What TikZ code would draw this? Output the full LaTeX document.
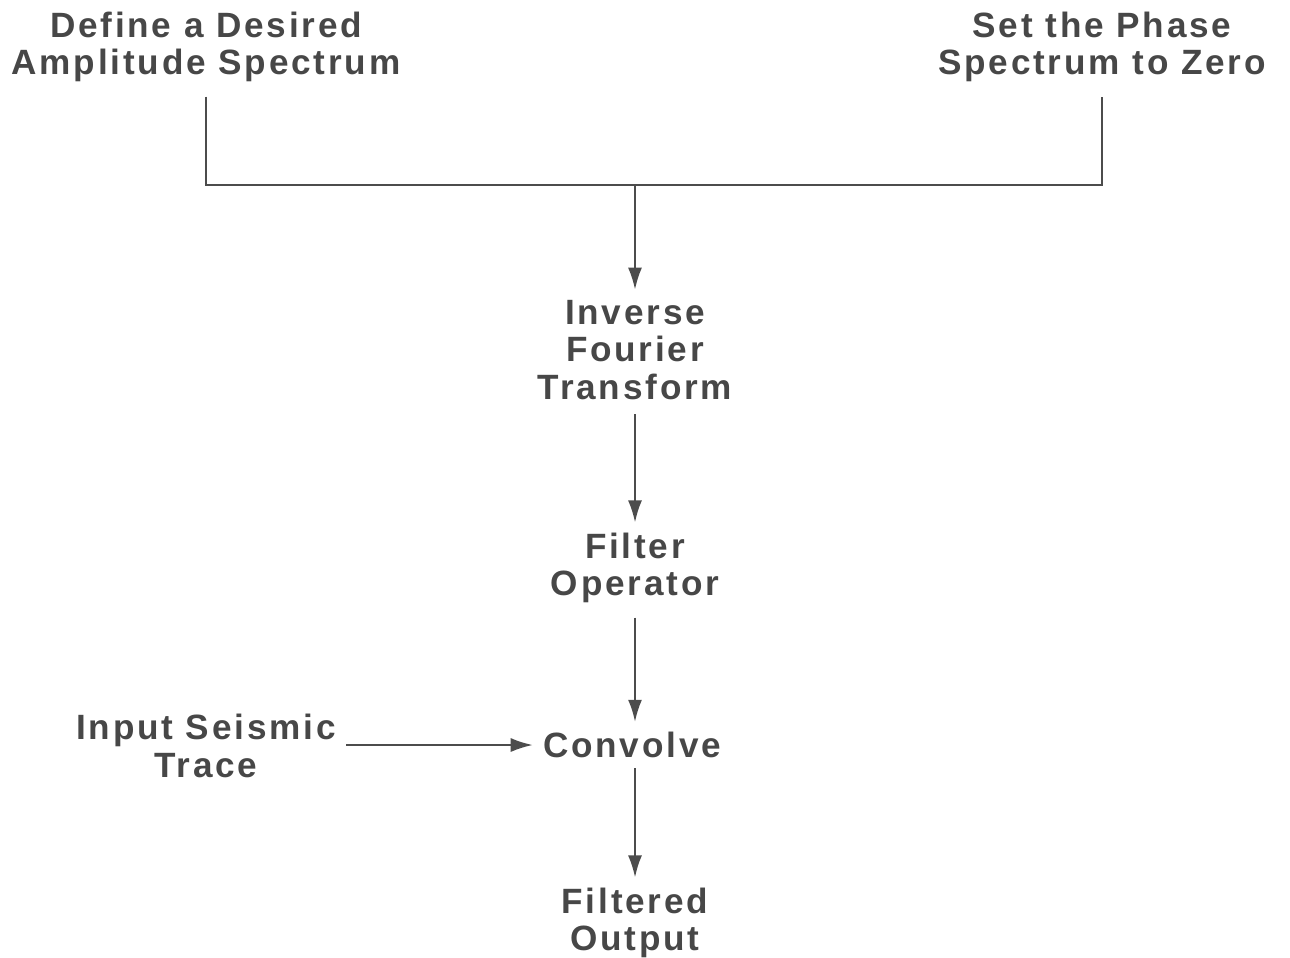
\documentclass[tikz,border=0pt]{standalone}
\usepackage{fontspec}
\setmainfont[LetterSpace=8]{Liberation Sans}
\usetikzlibrary{arrows.meta,positioning,calc}

\begin{document}
\begin{tikzpicture}[x=0.02cm, y=-0.02cm,
		every node/.style={align=center, text=black!72,
				font=\bfseries\fontsize{20pt}{21.5pt}\selectfont},
		stepText/.style={inner sep=0.2cm},
		flowArrow/.style={draw=black!70, line width=1.1pt,
				-{Latex[length=4.4mm, width=2.8mm]}},
		flowLine/.style={draw=black!70, line width=1.1pt}
	]
	\useasboundingbox (0,0) rectangle (1290,957);

	% top inputs
	\node[stepText] (Amp) at (206,47) {Define a Desired\\Amplitude Spectrum};
	\node[stepText] (Phase) at (1102,47) {Set the Phase\\Spectrum to Zero};
	\coordinate (Join) at (635,185);

	% main column
	\node[stepText] (IFT) at (635,350) {Inverse\\Fourier\\Transform};
	\node[stepText] (Op) at (635,568) {Filter\\Operator};
	\node[stepText] (Conv) at (632,745) {Convolve};
	\node[stepText] (Trace) at (206,746) {Input Seismic\\Trace};
	\node[stepText] (Out) at (635,923) {Filtered\\Output};

	\draw[flowLine] ($(Amp.south)+(0,4)$) |- (Join) -| ($(Phase.south)+(0,4)$);
	\draw[flowArrow] (Join) -- (IFT.north);
	\draw[flowArrow] ($(IFT.south)+(0,4)$) -- (Op.north);
	\draw[flowArrow] ($(Op.south)+(0,4)$) -- (Op |- Conv.north);
	\draw[flowArrow] (Trace.east |- Conv) -- (Conv.west);
	\draw[flowArrow] (Conv.south -| Out) -- (Out.north);
\end{tikzpicture}
\end{document}
